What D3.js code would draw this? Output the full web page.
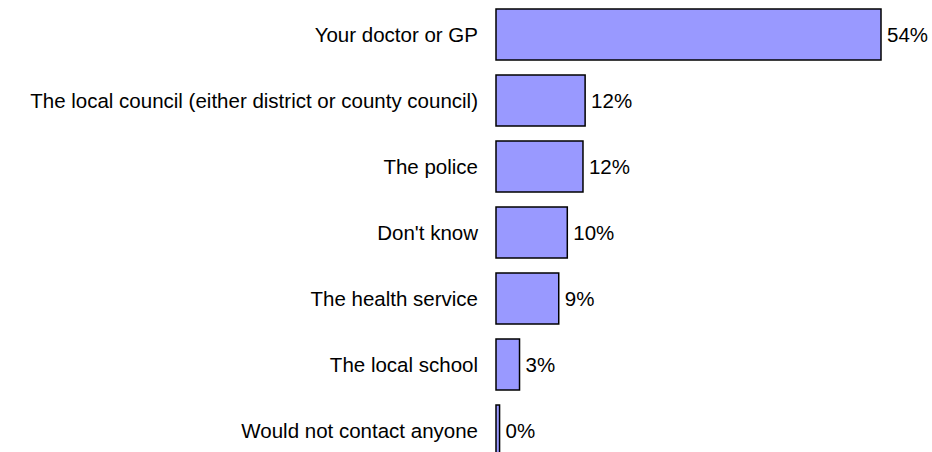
<!DOCTYPE html>
<html>
<head>
<meta charset="utf-8">
<script src="https://cdn.jsdelivr.net/npm/d3@7"></script>
<style>
  body { margin: 0; background: #fff; }
  svg { display: block; }
  text { font-family: "Liberation Sans", Arial, sans-serif; font-size: 20.5px; fill: #000; }
</style>
</head>
<body>
<div id="chart"></div>
<script>
const categories = [
  'Your doctor or GP',
  'The local council (either district or county council)',
  'The police',
  "Don't know",
  'The health service',
  'The local school',
  'Would not contact anyone',
]
const values = [54, 12.5, 12.2, 10, 8.8, 3.3, 0.5]
const valueLabels = ['54%', '12%', '12%', '10%', '9%', '3%', '0%']

const width = 932
const height = 452

const svg = d3.select('#chart').append('svg')
  .attr('width', width)
  .attr('height', height)

// x scale: 0 at the axis line, 54 at the end of the longest bar
const x = d3.scaleLinear()
  .domain([0, 54])
  .range([496, 881])

// bands step 66px, first bar top at 9
const y = d3.scaleBand()
  .domain(categories)
  .range([9 - 7.5, 9 - 7.5 + 66 * categories.length])
  .paddingInner(15 / 66)
  .paddingOuter(7.5 / 66)

const rows = svg.append('g').selectAll('g')
  .data(categories.map((c, i) => ({ name: c, value: values[i], label: valueLabels[i] })))
  .join('g')

rows.append('rect')
  .attr('x', x(0))
  .attr('y', d => y(d.name))
  .attr('width', d => x(d.value) - x(0))
  .attr('height', y.bandwidth())
  .attr('fill', '#9999ff')
  .attr('stroke', '#000')
  .attr('stroke-width', 1.5)

rows.append('text')
  .attr('x', 478)
  .attr('y', d => y(d.name) + y.bandwidth() / 2)
  .attr('dy', '0.37em')
  .attr('text-anchor', 'end')
  .text(d => d.name)

rows.append('text')
  .attr('x', d => x(d.value) + 6)
  .attr('y', d => y(d.name) + y.bandwidth() / 2)
  .attr('dy', '0.37em')
  .text(d => d.label)
</script>
</body>
</html>
